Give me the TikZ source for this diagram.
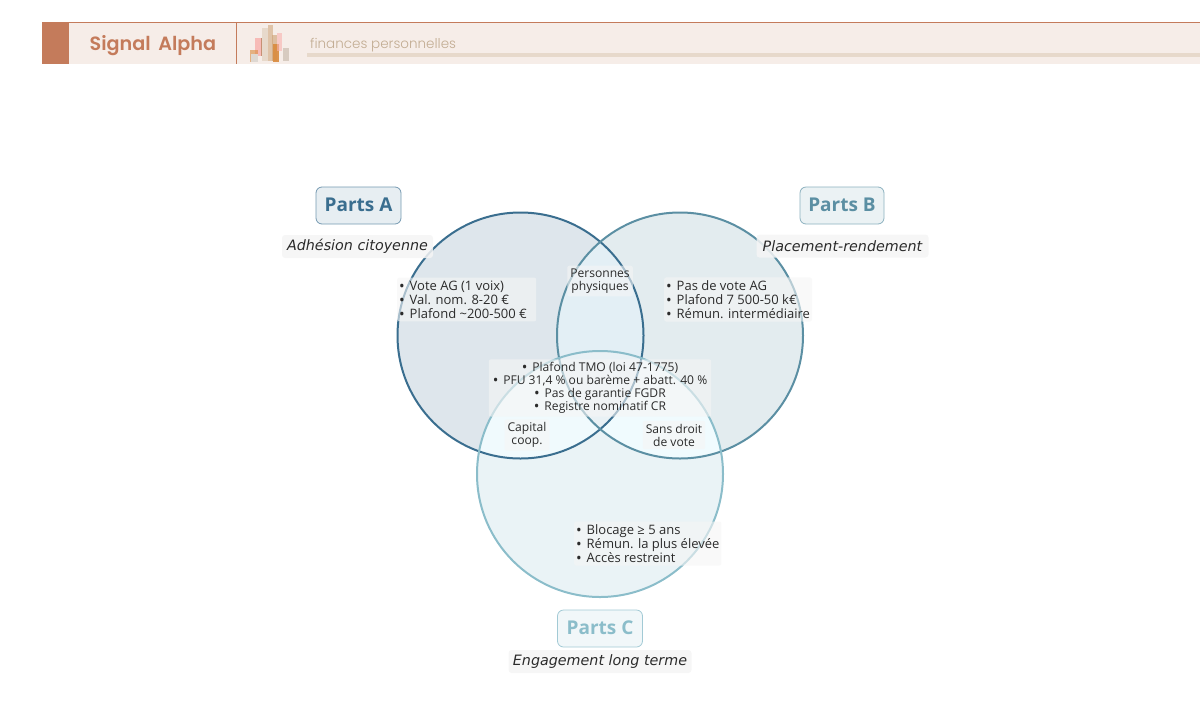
\documentclass[tikz,border=0pt]{standalone}
\usepackage{fontspec}
\setmainfont{Open Sans}
\newfontfamily\brandfont{Poppins SemiBold}
\newfontfamily\taglinefont{Poppins Light}
\newfontfamily\claimfont{DejaVu Sans}
\usetikzlibrary{positioning}

\definecolor{bandbg}{HTML}{F6EDE8}
\definecolor{brand}{HTML}{C47B5B}
\definecolor{bandline}{HTML}{E7D9CB}
\definecolor{tagline}{HTML}{C2AC92}
\definecolor{colA}{HTML}{3A6E8F}
\definecolor{colB}{HTML}{5B8FA3}
\definecolor{colC}{HTML}{8BBDCA}
\definecolor{inktext}{HTML}{2B2B2B}
\definecolor{boxgrey}{HTML}{F5F5F5}
\definecolor{skyorange}{HTML}{D98A3D}

\newcommand{\dotitem}{\makebox[10.5pt][l]{\smash{\raisebox{-1.2pt}{\fontsize{15}{14}\selectfont •}}}}

\tikzset{
    partsbox/.style={draw, rounded corners=6pt, line width=0.8pt, inner sep=0pt, text depth=2pt,
        minimum height=37pt, font=\fontsize{19}{24}\selectfont\bfseries},
    claimbox/.style={fill=boxgrey, fill opacity=0.85, text opacity=1, rounded corners=3pt,
        text=inktext, inner sep=0pt, minimum height=23pt, font=\claimfont\fontsize{14.3}{18}\selectfont\itshape},
    listbox/.style={fill=boxgrey, fill opacity=0.6, text opacity=1, rounded corners=2pt,
        text=inktext, inner xsep=2pt, inner ysep=3pt, anchor=west, align=flush left, font=\fontsize{13}{14}\selectfont},
    smallbox/.style={fill=boxgrey, fill opacity=0.6, text opacity=1, rounded corners=2pt,
        text=inktext, inner xsep=3pt, inner ysep=3pt, align=center, font=\fontsize{12.1}{13}\selectfont},
    skyline/.style={fill opacity=0.6, draw=none}
}

\begin{document}
\begin{tikzpicture}[x=1pt, y=-1pt]
    \useasboundingbox (0,0) rectangle (1200,721);

    % Header
    \fill[bandbg] (42,22) rectangle (1200,64);
    \fill[brand] (42,22) rectangle (69,64);
    \draw[brand, line width=0.8pt] (42,22) -- (1200,22);
    \draw[brand, line width=0.8pt] (236.5,22) -- (236.5,64);
    \fill[bandline] (307,53) rectangle (1200,57);
    \node (brandname) [anchor=west, text=brand, inner sep=0pt] at (89.5,45.5) {\brandfont\fontsize{19.2}{24}\selectfont Signal\hspace{3pt} Alpha};
    \node (topic) [anchor=west, text=tagline, inner sep=0pt] at (310,45) {\taglinefont\fontsize{13.5}{17}\selectfont finances personnelles};

    % Skyline
    \fill[skyline, fill=red!35!bandbg] (255,38) rectangle (262,56);
    \fill[brown!80!black, opacity=0.5] (261,38) rectangle (262,56);
    \fill[skyline, fill=skyorange] (250,50) rectangle (258,62);
    \fill[bandline!70!gray!60] (251,54) rectangle (258,62);
    \fill[bandline] (262,28) rectangle (268,61);
    \fill[skyline, fill=brown!55!bandline] (268,25) rectangle (273,61);
    \fill[skyline, fill=brown!65!bandline] (272,35) rectangle (277,61);
    \fill[skyline, fill=skyorange, fill opacity=0.9] (273,44) rectangle (279,62);
    \fill[skyline, fill=red!25!bandbg] (277,33) rectangle (282,51);
    \fill[bandline!85!gray] (283,48) rectangle (289,61);

    % Circles
    \coordinate (centerA) at (520.5,335.5);
    \coordinate (centerB) at (680,335.5);
    \coordinate (centerC) at (600,474);
    \fill[colA!17!white] (centerA) circle (123);
    \fill[colB!17!white] (centerB) circle (123);
    \fill[colC!18!white] (centerC) circle (123);

    % Overlaps
    \begin{scope}
        \clip (centerA) circle (123);
        \fill[color={rgb,255:red,227;green,239;blue,245}] (centerB) circle (123);
        \fill[color={rgb,255:red,240;green,250;blue,253}] (centerC) circle (123);
    \end{scope}
    \begin{scope}
        \clip (centerB) circle (123);
        \fill[color={rgb,255:red,240;green,251;blue,254}] (centerC) circle (123);
    \end{scope}
    \begin{scope}
        \clip (centerA) circle (123);
        \clip (centerB) circle (123);
        \fill[color={rgb,255:red,233;green,241;blue,245}] (centerC) circle (123);
    \end{scope}

    % Outlines
    \draw[colA, line width=2pt] (centerA) circle (123);
    \draw[colB, line width=2pt] (centerB) circle (123);
    \draw[colC, line width=2pt] (centerC) circle (123);

    % Titles
    \node (partsA) [partsbox, draw=colA!70!white, fill=colA!12!white, text=colA, minimum width=85pt] at (358.5,205.5) {Parts A};
    \node (claimA) [claimbox, minimum width=151pt] at (357.5,246.5) {Adhésion citoyenne};
    \node (partsB) [partsbox, draw=colB!70!white, fill=colB!12!white, text=colB, minimum width=84pt] at (842,205.5) {Parts B};
    \node (claimB) [claimbox, minimum width=172pt] at (842.5,246) {Placement-rendement};
    \node (partsC) [partsbox, draw=colC!80!white, fill=colC!12!white, text=colC, minimum width=85pt] at (600,628.5) {Parts C};
    \node (claimC) [claimbox, minimum width=183pt] at (600,661.5) {Engagement long terme};

    % Lists
    \node (listA) [listbox, text width=135pt] at (397,299.5) {\dotitem Vote AG (1 voix)\\\dotitem Val. nom. 8-20 €\\\dotitem Plafond \textasciitilde 200-500 €};
    \node (listB) [listbox] at (664,299.5) {\dotitem Pas de vote AG\\\dotitem Plafond 7 500-50 k€\\\dotitem Rémun. intermédiaire};
    \node (listC) [listbox] at (574,543.5) {\dotitem Blocage ≥ 5 ans\\\dotitem Rémun. la plus élevée\\\dotitem Accès restreint};
    \node (listABC) [smallbox, inner xsep=4pt] at (600,388) {\dotitem Plafond TMO (loi 47-1775)\\\dotitem PFU 31,4 \% ou barème + abatt. 40 \%\\\dotitem Pas de garantie FGDR\\\dotitem Registre nominatif CR};

    % Pairs
    \node (pairAB) [smallbox] at (600,281) {Personnes\\physiques};
    \node (pairAC) [smallbox] at (527,435) {Capital\\coop.};
    \node (pairBC) [smallbox] at (674,435) {Sans droit\\de vote};
\end{tikzpicture}
\end{document}
